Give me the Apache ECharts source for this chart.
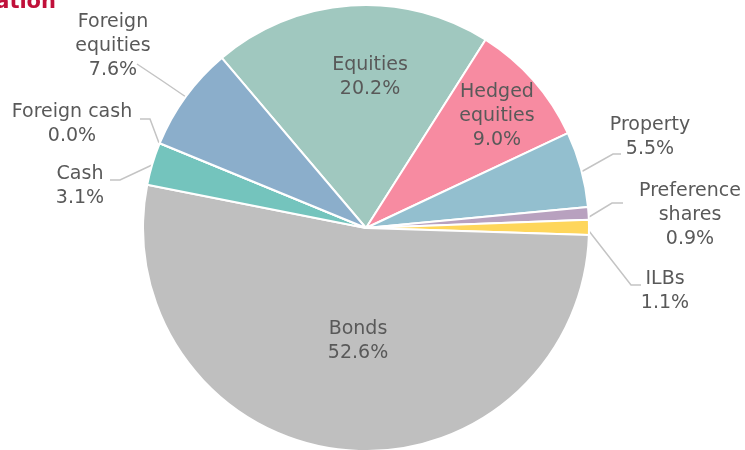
<!DOCTYPE html>
<html>
<head>
<meta charset="utf-8">
<script src="https://cdn.jsdelivr.net/npm/echarts@6/dist/echarts.min.js"></script>
<style>html,body{margin:0;padding:0;background:#fff;}#c{width:745px;height:450px;}</style>
</head>
<body>
<div id="c"></div>
<script>
const categories = ['Equities', 'Hedged\nequities', 'Property', 'Preference\nshares', 'ILBs', 'Bonds', 'Cash', 'Foreign cash', 'Foreign\nequities'];
const values = [20.2, 9.0, 5.5, 0.9, 1.1, 52.6, 3.1, 0.0, 7.6];
const colors = ['#a0c8bf', '#f78ba1', '#93bfcf', '#b8a1bf', '#fed65b', '#bfbfbf', '#74c4bd', '#a8c5de', '#8baecb'];
const insideLabels = ['Equities', 'Hedged\nequities', 'Bonds'];
const titleText = 'Asset allocation';

// label anchor positions and leader-line paths (layout only)
const labelPos = {
  'Equities': [370, 77],
  'Hedged\nequities': [497, 116],
  'Property': [650, 137],
  'Preference\nshares': [690, 215],
  'ILBs': [665, 291],
  'Bonds': [358, 341],
  'Cash': [80, 186],
  'Foreign cash': [72, 124],
  'Foreign\nequities': [113, 46]
};
const linePaths = {
  'Property': [[581, 172], [613, 154], [621, 154]],
  'Preference\nshares': [[589, 217], [612, 203], [623, 203]],
  'ILBs': [[589, 231], [631, 285], [641, 285]],
  'Cash': [[152, 165], [120, 180], [110, 180]],
  'Foreign cash': [[159, 143], [150, 119], [140, 119]],
  'Foreign\nequities': [[186, 97], [161, 80], [137, 64]]
};

const chart = echarts.init(document.getElementById('c'), null, {renderer: 'canvas'});
const data = categories.map((c, i) => ({
  name: c,
  value: values[i],
  itemStyle: {color: colors[i]},
  labelLine: {show: insideLabels.indexOf(c) < 0}
}));
chart.setOption({
  animation: false,
  graphic: [{
    type: 'text',
    right: 745 - 56,
    top: -8,
    style: {text: titleText, font: 'bold 21px "DejaVu Sans", Verdana, sans-serif', fill: '#c0103a'}
  }],
  series: [{
    type: 'pie',
    center: [366, 228],
    radius: [0, 223],
    startAngle: 130.3,
    clockwise: true,
    avoidLabelOverlap: false,
    stillShowZeroSum: true,
    minShowLabelAngle: 0,
    itemStyle: {borderColor: '#ffffff', borderWidth: 2},
    label: {
      show: true,
      position: 'outside',
      formatter: p => p.name + '\n' + p.value.toFixed(1) + '%',
      fontFamily: '"DejaVu Sans", Verdana, sans-serif',
      fontSize: 19,
      lineHeight: 24,
      color: '#595959',
      align: 'center'
    },
    labelLine: {show: true, length: 10, length2: 8, smooth: false, lineStyle: {color: '#c4c4c4', width: 1.5}},
    labelLayout: function (params) {
      const name = categories[params.dataIndex];
      const p = labelPos[name];
      const o = {x: p[0], y: p[1], align: 'center', verticalAlign: 'middle', hideOverlap: false};
      if (linePaths[name]) o.labelLinePoints = linePaths[name];
      return o;
    },
    data: data
  }]
});
</script>
</body>
</html>
